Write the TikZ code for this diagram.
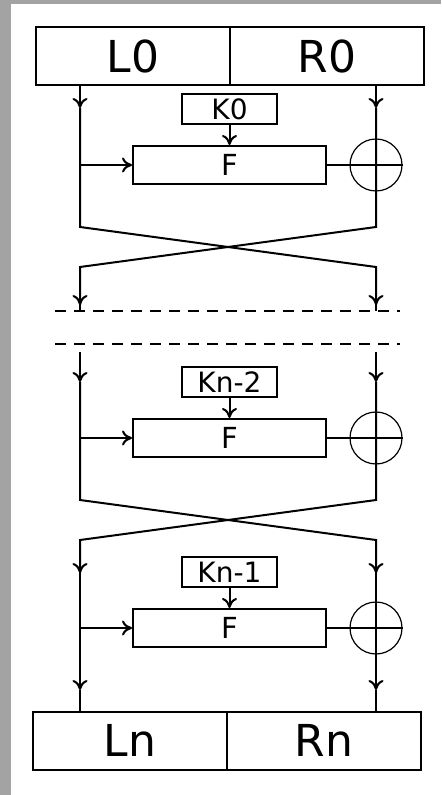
\documentclass[tikz,border=0pt]{standalone}
\usepackage{fontspec}
\setmainfont{DejaVu Sans}
\usetikzlibrary{arrows.meta, positioning, calc}
\definecolor{cframe}{HTML}{A3A3A3}
\tikzset{
  every picture/.style={line width=1pt, x=0.5pt, y=-0.5pt},
  half/.style={draw, minimum width=97pt, minimum height=29pt, inner sep=0pt, font=\fontsize{22}{22}\selectfont},
  keybox/.style={draw, minimum width=47.5pt, minimum height=15pt, inner sep=0pt, font=\fontsize{14}{14}\selectfont},
  fnbox/.style={draw, minimum width=96.5pt, minimum height=19pt, inner sep=0pt, font=\fontsize{14.5}{14.5}\selectfont},
  xor/.style={draw, circle, minimum size=26pt, inner sep=0pt, line width=0.6pt},
  arrow/.style={-{To[length=5pt, width=7.5pt]}},
  cut/.style={dash pattern=on 5.5pt off 4pt},
}

\begin{document}
\begin{tikzpicture}
  \fill[cframe] (0,0) rectangle (441,795);
  \fill[white] (11,4) rectangle (441,795);
  \useasboundingbox (0,0) rectangle (441,795);
  % halves in and out
  \node[half] (L0) at (133,56) {L0};
  \node[half] (R0) at (327,56) {R0};
  \node[half] (Ln) at (130,740.5) {Ln};
  \node[half] (Rn) at (324,740.5) {Rn};
  % the three rounds
  \foreach \k/\y [count=\i] in {K0/165, Kn-2/438, Kn-1/628} {
    \node[fnbox] (f\i) at (229.5,\y) {F};
    \node[keybox, above=10pt of f\i] (k\i) {\k};
    \node[xor] (x\i) at (376,\y) {};
    \coordinate (l\i) at (80,\y);
    \draw[arrow] (k\i) -- (f\i);
    \draw[arrow] (l\i) -- (f\i);
    \draw (f\i.east) -- (x\i.east);
  }
  % cut between the rounds
  \coordinate (cut1w) at (55,311); \coordinate (cut1e) at (400,311);
  \coordinate (cut2w) at (55,344); \coordinate (cut2e) at (400,344);
  \draw[cut] (cut1w) -- (cut1e);
  \draw[cut] (cut2w) -- (cut2e);
  % round 1
  \coordinate (a1) at (80,108); \coordinate (b1) at (376,108);
  \draw[arrow] (L0.south -| a1) -- (a1);
  \draw[arrow] (R0.south -| b1) -- (b1);
  \draw (a1) -- (80,227) -- (376,267) -- (376,305) coordinate (b2);
  \draw (b1) -- (376,227) -- (80,267) -- (80,305) coordinate (a2);
  \draw[arrow] (80,290) -- (a2);
  \draw[arrow] (376,290) -- (b2);
  \draw (a2) -- (a2 |- cut1w);
  \draw (b2) -- (b2 |- cut1e);
  % round n-2
  \coordinate (a3) at (80,382); \coordinate (b3) at (376,382);
  \draw[arrow] (80,352) -- (a3);
  \draw[arrow] (376,352) -- (b3);
  \draw (a3) -- (80,500) -- (376,540) -- (376,573) coordinate (b4);
  \draw (b3) -- (376,500) -- (80,540) -- (80,573) coordinate (a4);
  \draw[arrow] (80,560) -- (a4);
  \draw[arrow] (376,560) -- (b4);
  % round n-1
  \coordinate (a5) at (80,690); \coordinate (b5) at (376,690);
  \draw[arrow] (a4) -- (a5);
  \draw[arrow] (b4) -- (b5);
  \draw (a5) -- (a5 |- Ln.north);
  \draw (b5) -- (b5 |- Rn.north);
\end{tikzpicture}
\end{document}
